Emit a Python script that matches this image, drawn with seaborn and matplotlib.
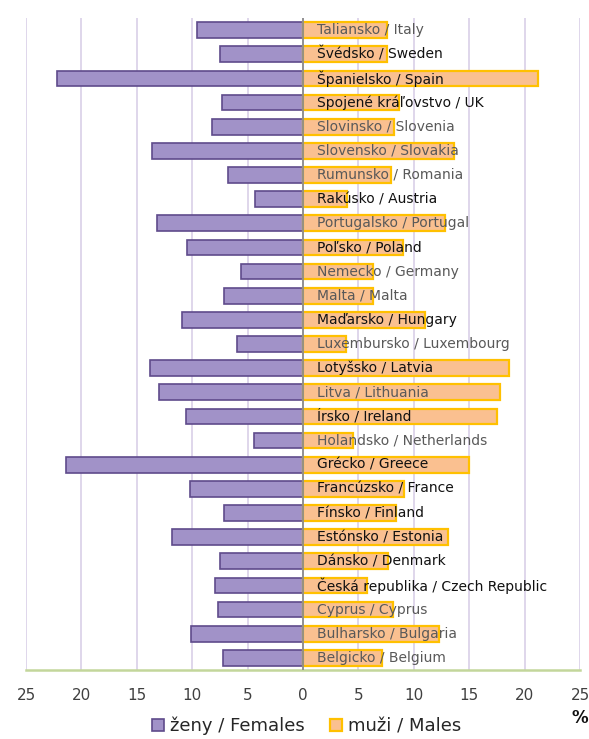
import matplotlib
matplotlib.use("Agg")
import matplotlib.pyplot as plt
import matplotlib.patches as mpatches
import seaborn as sns
import pandas as pd
import numpy as np

# values (% share), top to bottom
countries = [
    "Taliansko / Italy", "Švédsko / Sweden", "Španielsko / Spain",
    "Spojené kráľovstvo / UK", "Slovinsko / Slovenia", "Slovensko / Slovakia",
    "Rumunsko / Romania", "Rakúsko / Austria", "Portugalsko / Portugal",
    "Poľsko / Poland", "Nemecko / Germany", "Malta / Malta",
    "Maďarsko / Hungary", "Luxembursko / Luxembourg", "Lotyšsko / Latvia",
    "Litva / Lithuania", "Írsko / Ireland", "Holandsko / Netherlands",
    "Grécko / Greece", "Francúzsko / France", "Fínsko / Finland",
    "Estónsko / Estonia", "Dánsko / Denmark", "Česká republika / Czech Republic",
    "Cyprus / Cyprus", "Bulharsko / Bulgaria", "Belgicko / Belgium",
]
females = [9.6, 7.5, 22.2, 7.3, 8.2, 13.6, 6.8, 4.3, 13.2, 10.5, 5.6, 7.1,
           10.9, 6.0, 13.8, 13.0, 10.6, 4.4, 21.4, 10.2, 7.1, 11.8, 7.5,
           7.9, 7.7, 10.1, 7.2]
males = [7.6, 7.6, 21.2, 8.7, 8.2, 13.6, 7.9, 4.0, 12.8, 9.0, 6.3, 6.3,
         11.0, 3.9, 18.6, 17.8, 17.5, 4.5, 15.0, 9.1, 8.4, 13.1, 7.7,
         5.8, 8.1, 12.3, 7.1]
# labels printed in black in the reference (others are grey)
dark_labels = ["Švédsko / Sweden", "Španielsko / Spain", "Spojené kráľovstvo / UK",
               "Rakúsko / Austria", "Poľsko / Poland", "Maďarsko / Hungary",
               "Lotyšsko / Latvia", "Írsko / Ireland", "Grécko / Greece",
               "Francúzsko / France", "Fínsko / Finland", "Estónsko / Estonia",
               "Dánsko / Denmark", "Česká republika / Czech Republic"]
ticks = [-25, -20, -15, -10, -5, 0, 5, 10, 15, 20, 25]

df = pd.DataFrame({"country": countries,
                   "females": [-v for v in females],
                   "males": males})

sns.set_style("white")
plt.rcParams['font.family'] = ['DejaVu Sans']

fig = plt.figure(figsize=(5.89, 7.39), dpi=100)
ax = fig.add_axes([26 / 589, 1 - 670 / 739, (580 - 26) / 589, (670 - 18) / 739])

fem_col = "#A192C8"
fem_edge = "#5F4B8B"
male_col = "#FAC090"
male_edge = "#FFC000"

sns.barplot(data=df, y="country", x="females", order=countries, color=fem_col,
            edgecolor=fem_edge, linewidth=1.2, width=0.65, saturation=1, ax=ax,
            zorder=2)
sns.barplot(data=df, y="country", x="males", order=countries, color=male_col,
            edgecolor=male_edge, linewidth=1.6, width=0.65, saturation=1, ax=ax,
            zorder=2)

for t in ticks:
    ax.axvline(t, color="#D9D0E8", lw=1.2, zorder=0)
ax.axvline(0, color="#8C8C8C", lw=1.3, zorder=3)

for i, name in enumerate(countries):
    col = "#111111" if name in dark_labels else "#595959"
    ax.text(1.3, i, name, va="center", ha="left", fontsize=10, color=col,
            zorder=4)

ax.set_xlim(-25, 25)
ax.set_ylim(len(countries) - 0.5, -0.5)
ax.set_xticks(ticks)
ax.set_xticklabels([str(abs(t)) for t in ticks], fontsize=11, color="#404040")
ax.tick_params(axis="x", length=0, pad=13)
ax.set_yticks([])
ax.set_xlabel("")
ax.set_ylabel("")
for s in ["top", "left", "right"]:
    ax.spines[s].set_visible(False)
ax.spines["bottom"].set_color("#C3D69B")
ax.spines["bottom"].set_linewidth(1.8)

handles = [mpatches.Patch(facecolor=fem_col, edgecolor=fem_edge, lw=1.2,
                          label="ženy / Females"),
           mpatches.Patch(facecolor=male_col, edgecolor=male_edge, lw=1.6,
                          label="muži / Males")]
fig.legend(handles=handles, loc="center", bbox_to_anchor=(0.52, 1 - 726 / 739),
           ncol=2, frameon=False, fontsize=13, handlelength=0.7,
           handleheight=0.7, handletextpad=0.3, columnspacing=1.4)

fig.text(572 / 589, 1 - 718 / 739, "%", fontsize=12, fontweight="bold",
         ha="left", va="center", color="#111111")

fig.savefig("out.png", dpi=100)
